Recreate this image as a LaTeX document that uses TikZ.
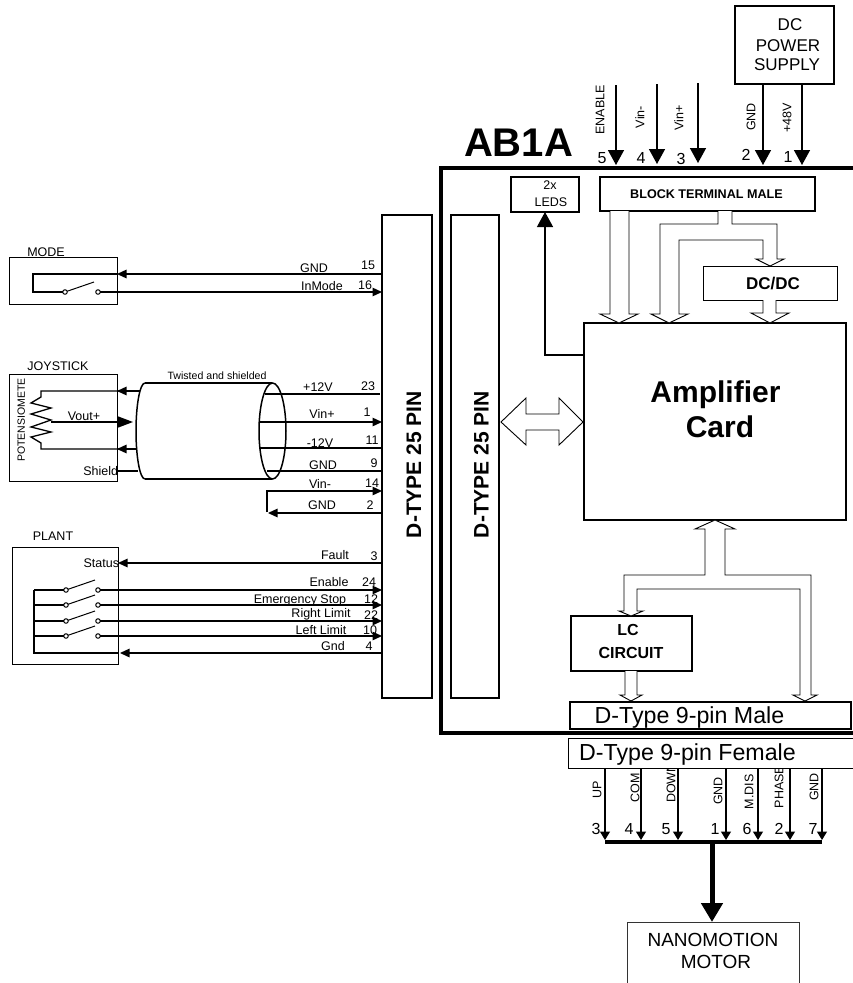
\documentclass[tikz,border=0pt]{standalone}
\usepackage{fontspec}
\setmainfont{Liberation Sans}
\usetikzlibrary{arrows.meta,calc}
\newcommand{\rbox}[7]{\node[#6,minimum width={(#4-#2)*1pt},minimum height={(#5-#3)*1pt}] (#1) at ({(#2+#4)/2},{(#3+#5)/2}) {#7};}
\newcommand{\fsz}[1]{\fontsize{#1}{#1}\selectfont}
\tikzset{
  x=1pt,y=-1pt,
  bx/.style={draw=black,fill=white,rectangle,inner sep=0pt,outer sep=0pt,line width=#1},
  bx/.default=1.5pt,
  sz/.style={inner sep=0pt,outer sep=0pt,text depth=0pt,text height={.716*#1pt},font=\fsz{#1}},
  bsz/.style={inner sep=0pt,outer sep=0pt,text depth=0pt,text height={.716*#1pt},font=\bfseries\fsz{#1}},
  lb/.style={sz=12.5},
  num/.style={sz=16},
  vl/.style={sz=12.5,rotate=90},
  wire/.style={line width=1.3pt,line join=miter},
  ah/.style={-{Triangle[length=9.5pt,width=8.5pt]}},
  ahb/.style={-{Triangle[length=15pt,width=16pt]}},
  ahp/.style={-{Triangle[length=8.5pt,width=10pt]}},
  hollow/.style={draw=black,fill=white,line width=.9pt,line join=miter},
  swc/.style={circle,draw=black,fill=white,line width=1pt,minimum size=4.5pt,inner sep=0pt,outer sep=0pt},
  heavy/.style={line width=4pt},
}
\begin{document}
\begin{tikzpicture}
\useasboundingbox (0,0) rectangle (853,983);
% enclosure
\coordinate (fA) at (853,168); \coordinate (fB) at (441,168);
\coordinate (fC) at (441,733); \coordinate (fD) at (853,733);
\draw[heavy,line cap=butt] (fA) -- (fB) -- (fC) -- (fD);
\node[bsz=40] (title) at (518.5,142.5) {AB1A};
% boxes
\rbox{dc}{735}{6}{834}{84}{bx}{}
\rbox{leds}{511}{177}{579}{212}{bx}{}
\rbox{block}{600}{177}{815}{211}{bx}{}
\rbox{dcdc}{703}{266}{837}{300}{bx=1pt}{}
\rbox{amp}{584}{323}{846}{520}{bx=2pt}{}
\rbox{dtout}{382}{215}{432}{698}{bx}{}
\rbox{dtin}{451}{215}{499}{698}{bx}{}
\rbox{modeb}{9}{257}{117}{304}{bx=.8pt}{}
\rbox{joy}{9}{374}{117}{481}{bx=.8pt}{}
\rbox{plant}{12}{547}{118}{664}{bx=.8pt}{}
\rbox{lc}{571}{616}{692}{671}{bx}{}
% box texts
\node[bsz=12.6] (blockT) at (706.5,193.5) {BLOCK TERMINAL MALE};
\node[bsz=17] (dcdcT) at (773,283) {DC/DC};
\foreach \n/\x/\y/\t in {dcA/790/24/DC,dcB/788/45/POWER,dcC/787/64.5/SUPPLY}
  \node[sz=17] (\n) at (\x,\y) {\t};
\node[lb] (ledA) at (550,185) {2x};
\node[lb] (ledB) at (551,202) {LEDS};
\node[bsz=30] (ampA) at (715.5,392) {Amplifier};
\node[bsz=30] (ampB) at (720,426.5) {Card};
\node[bsz=16] (lcA) at (628,630) {LC};
\node[bsz=16] (lcB) at (631,653) {CIRCUIT};
\node[bsz=21,rotate=90] (dtoutT) at (413.5,464.5) {D-TYPE 25 PIN};
\node[bsz=21,rotate=90] (dtinT) at (481,464.5) {D-TYPE 25 PIN};
% top arrows
\foreach \n/\x/\a/\b in {en/616/85/165,vm/657/84/164,vp/698/83/163}{
  \coordinate (top\n) at (\x,\a); \coordinate (end\n) at (\x,\b);
  \draw[wire,line width=1.5pt,ahb] (top\n) -- (end\n);}
\draw[wire,line width=1.5pt,ahb] (dc.south -| 763,0) -- (763,165);
\draw[wire,line width=1.5pt,ahb] (dc.south -| 802,0) -- (802,165);
\foreach \n/\x/\y/\t in {a/600/110/ENABLE,b/640/117/Vin-,c/679/118/Vin+,d/751/117/GND,e/787/118/+48V}
  \node[vl] (top\n) at (\x,\y) {\t};
\foreach \n/\x/\y/\t in {5/602/158/5,4/641/158/4,3/681/159/3,2/746/155/2,1/788/157/1}
  \node[num] (tn\n) at (\x,\y) {\t};
% LED feedback
\draw[wire,ahb] (amp.west |- 0,355) -- (545,355) -- (leds.south -| 545,0);
% hollow arrows top
\draw[hollow] (610,211) -- (610,314) -- (600,314) -- (619,323) -- (638,314) -- (629,314) -- (629,211);
\draw[hollow] (718,211) -- (718,224) -- (660,224) -- (660,314) -- (651,314) -- (669,323) -- (688,314) -- (679,314) -- (679,240) -- (763,240) -- (763,259) -- (756,259) -- (770,266) -- (784,259) -- (777,259) -- (777,224) -- (732,224) -- (732,211);
\draw[hollow] (763,300) -- (763,313) -- (751,313) -- (770,323) -- (789,313) -- (776,313) -- (776,300);
% double arrow
\draw[hollow,line join=miter] (501,422) -- (526,398) -- (526,414) -- (559,414) -- (559,398) -- (583,422) -- (559,445) -- (559,430) -- (526,430) -- (526,445) -- cycle;
% amp to LC and 9-pin
\draw[hollow] (715,520) -- (695,529) -- (705,529) -- (705,575) -- (624,575) -- (624,611) -- (619,611) -- (631,616) -- (643,611) -- (637,611) -- (637,589) -- (800,589) -- (800,695) -- (793,695) -- (805,701) -- (817,695) -- (811,695) -- (811,575) -- (725,575) -- (725,529) -- (735,529) -- cycle;
\draw[hollow] (625,671) -- (625,695) -- (620,695) -- (631,701) -- (642,695) -- (637,695) -- (637,671);
\rbox{male}{570}{702}{851}{729}{bx}{}
\node[sz=23.2] (maleT) at (689.5,715.5) {D-Type 9-pin Male};
% pin labels (the connector box covers their tops)
\foreach \n/\x/\y/\t in {a/597/790/UP,b/635/788/COM,c/671/783/DOWN,d/718/791/GND,e/749/792/M.DIS,f/779/787/PHASE,g/814/787/GND}
  \node[vl] (pin\n) at (\x,\y) {\t};
\rbox{female}{568}{738}{853}{768}{bx=1pt}{}
\node[sz=23.2] (femaleT) at (687.5,752) {D-Type 9-pin Female};
\foreach \n/\x/\t in {a/605/3,b/641/4,c/678/5,d/726/1,e/758/6,f/790/2,g/822/7}{
  \coordinate (bus\n) at (\x,840);
  \draw[wire,ahp] (female.south -| bus\n) -- (bus\n);}
\foreach \n/\x/\t in {a/596/3,b/629/4,c/666/5,d/715/1,e/747/6,f/779/2,g/813/7}
  \node[num] (pn\n) at (\x,828.5) {\t};
\coordinate (busL) at (605,842); \coordinate (busR) at (822,842); \coordinate (busM) at (712,842);
\draw[line width=4.5pt] (busL) -- (busR);
\coordinate (motorTop) at (712,922);
\draw[line width=5pt,-{Triangle[length=19pt,width=21pt]}] (busM) -- (motorTop);
\draw[line width=.8pt,draw=black!80] (627,983) -- (627,922) -- (799,922) -- (799,983);
\node[sz=19] (motA) at (713,940) {NANOMOTION};
\node[sz=19] (motB) at (716,962) {MOTOR};
% MODE
\node[swc] (m1) at (65,292) {}; \node[swc] (m2) at (98,292) {};
\draw[wire] (modeb.east |- 0,274) -- (33,274) -- (33,292) -- (m1);
\draw[line width=1pt] (m1) -- (94,282);
\draw[wire,ah] (dtout.west |- 0,274) -- (modeb.east |- 0,274);
\draw[wire,ah] (m2) -- (dtout.west |- m2);
% JOYSTICK
\draw[line width=1.5pt] (145,383) -- (272,383);
\draw[line width=1.5pt] (145,479) -- (272,479);
\draw[line width=1.5pt] (145,383) arc[start angle=90,end angle=270,x radius=9,y radius=-48];
\coordinate (cab) at (272.5,431);
\draw[line width=1.5pt] (cab) ellipse [x radius=13.5,y radius=48];
\draw[wire] (140,391) -- (41,391) -- (41,397) -- (31,403) -- (51,408) -- (31,414) -- (51,420) -- (31,427) -- (51,432) -- (31,437) -- (41,443) -- (41,449) -- (137,449);
\draw[wire,ah] (140,391) -- (joy.east |- 0,391);
\draw[wire,ah] (137,449) -- (joy.east |- 0,449);
\draw[wire,-{Triangle[length=15pt,width=11pt]}] (51,422) -- (133,422);
\draw[wire] (joy.east |- 0,471) -- (138,471);
\draw[wire] (265,394) -- (380,394);
\draw[wire,ah] (259,422) -- (dtout.west |- 0,422);
\draw[wire] (260,448) -- (dtout.west |- 0,448);
\draw[wire,line width=1.5pt] (267,471) -- (dtout.west |- 0,471);
% loop
\draw[wire,ah] (267,512) -- (267,491) -- (dtout.west |- 0,491);
\draw[wire,ah] (dtout.west |- 0,513) -- (268,513);
% PLANT
\draw[wire,ah] (dtout.west |- 0,563) -- (plant.east |- 0,563);
\foreach \n/\y in {a/590,b/605,c/621,d/636}{
  \node[swc] (sl\n) at (66,\y) {}; \node[swc] (sr\n) at (98,\y) {};
  \draw[wire] (34,\y) -- (sl\n);
  \draw[line width=1pt] (sl\n) -- (95,\y-10);
  \draw[wire,ah] (sr\n) -- (dtout.west |- sr\n);}
\draw[wire] (34,590) -- (34,653) -- (plant.east |- 0,653);
\draw[wire,ah] (dtout.west |- 0,653) -- (120,653);
% left labels
\foreach \n/\x/\y/\t in {
  a/46/252/MODE,b/314/268/GND,c/368/265/15,d/322/286/InMode,e/365/285/16,
  f/58/366/JOYSTICK,g/84/416/Vout+,h/318/387/+12V,i/368/386/23,
  j/322/414/Vin+,k/367/412/1,l/320/443/-12V,m/372/440/11,n/323/465/GND,o/374/463/9,
  p/320/484/Vin-,q/372/483/14,r/322/505/GND,s/370/505/2,
  t/53/536/PLANT,u/335/555/Fault,v/374/556/3,w/329/582/Enable,x/369/582/24,
  y/300/599/Emergency Stop,z/371/599/12,A/321/613/Right Limit,B/371/615/22,
  C/321/630/Left Limit,D/370/630/10,E/333/646/Gnd,F/369/646/4}
  \node[lb] (L\n) at (\x,\y) {\t};
\node[lb,anchor=east] (shieldT) at (118,471) {Shield};
\node[lb,anchor=east] (statusT) at (119,563) {Status};
\node[sz=10.6] (twist) at (217,376) {Twisted and shielded};
\node[sz=10.5,rotate=90] (pot) at (21,420) {POTENSIOMETE};
\end{tikzpicture}
\end{document}
